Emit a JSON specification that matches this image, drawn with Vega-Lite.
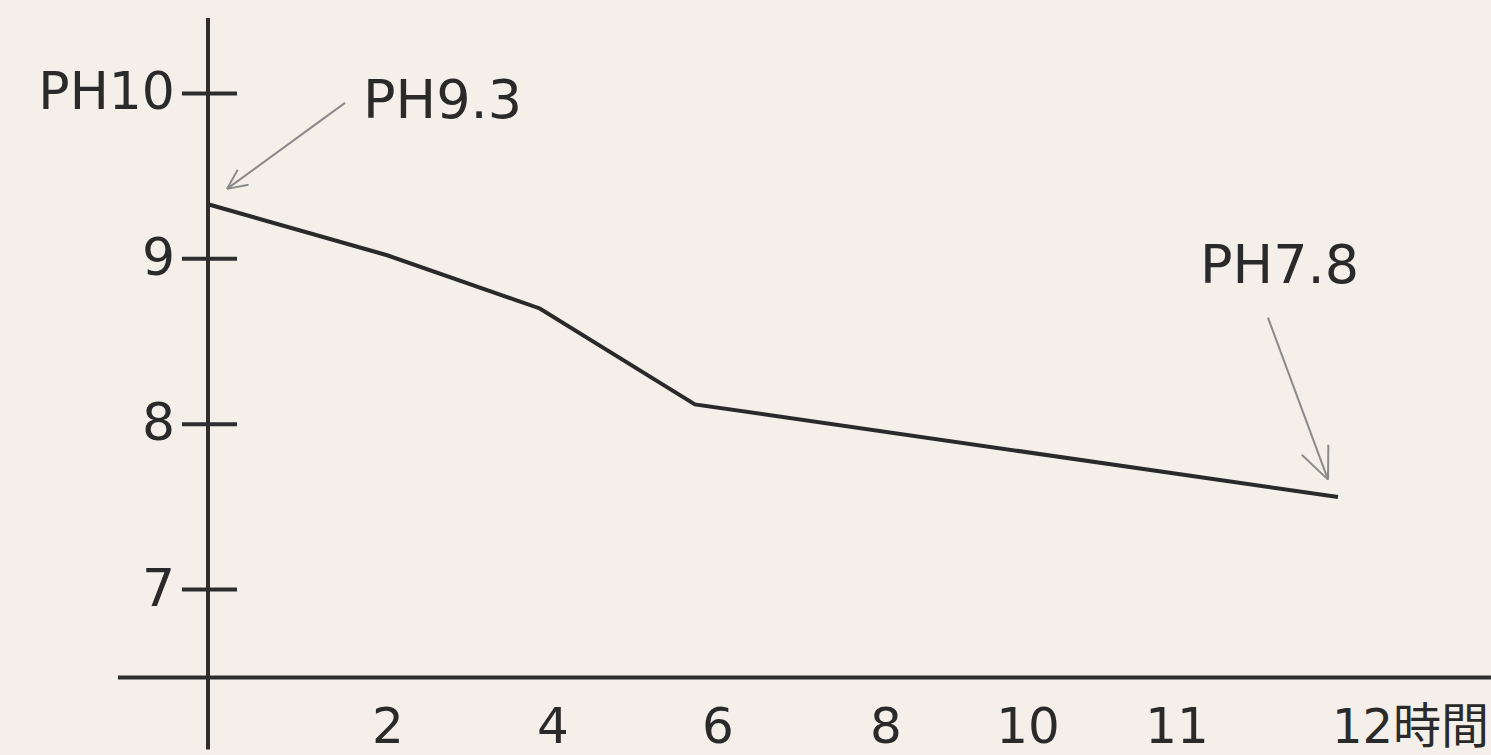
{
  "$schema": "https://vega.github.io/schema/vega-lite/v6.json",
  "width": 1491,
  "height": 755,
  "padding": 0,
  "autosize": {"type": "none"},
  "background": "#f4efe9",
  "config": {"view": {"stroke": null}, "font": "DejaVu Sans, Noto Sans CJK JP"},
  "datasets": {
    "ph": [
      {"hour": 0, "pH": 9.33},
      {"hour": 2, "pH": 9.02},
      {"hour": 3.84, "pH": 8.70},
      {"hour": 5.72, "pH": 8.12},
      {"hour": 12, "pH": 7.56}
    ],
    "yticks": [
      {"pH": 10, "label": "PH10"},
      {"pH": 9, "label": "9"},
      {"pH": 8, "label": "8"},
      {"pH": 7, "label": "7"}
    ],
    "xticks": [
      {"hour": 2, "label": "2"},
      {"hour": 4, "label": "4"},
      {"hour": 6, "label": "6"},
      {"hour": 8, "label": "8"},
      {"hour": 10, "label": "10"},
      {"hour": 11, "label": "11"},
      {"hour": 12, "label": "12時間"}
    ],
    "notes": [
      {"hour": 0, "pH": 9.3, "label": "PH9.3"},
      {"hour": 12, "pH": 7.8, "label": "PH7.8"}
    ]
  },
  "layer": [
    {
      "data": {"name": "ph"},
      "mark": {"type": "line", "stroke": "#2a2a2a", "strokeWidth": 4, "strokeJoin": "miter"},
      "encoding": {
        "x": {"field": "hour", "type": "quantitative", "axis": null,
              "scale": {"domain": [0, 2, 4, 6, 8, 10, 11, 12], "range": [208, 388, 553, 718, 886, 1028, 1177, 1338], "nice": false, "zero": false}},
        "y": {"field": "pH", "type": "quantitative", "axis": null,
              "scale": {"domain": [6.0, 10.565], "nice": false, "zero": false}}
      }
    },
    {
      "data": {"values": [{}]},
      "mark": {"type": "rule", "stroke": "#2e2e2e", "strokeWidth": 4},
      "encoding": {
        "x": {"datum": 0, "type": "quantitative"},
        "y": {"datum": 6.033, "type": "quantitative"},
        "y2": {"datum": 10.456}
      }
    },
    {
      "data": {"values": [{}]},
      "mark": {"type": "rule", "stroke": "#2e2e2e", "strokeWidth": 4},
      "encoding": {
        "x": {"datum": -1.0, "type": "quantitative"},
        "x2": {"datum": 12.95},
        "y": {"datum": 6.468, "type": "quantitative"}
      }
    },
    {
      "data": {"name": "yticks"},
      "mark": {"type": "rule", "stroke": "#2e2e2e", "strokeWidth": 4},
      "encoding": {
        "x": {"datum": -0.289, "type": "quantitative"},
        "x2": {"datum": 0.322},
        "y": {"field": "pH", "type": "quantitative"}
      }
    },
    {
      "data": {"name": "yticks"},
      "mark": {"type": "text", "align": "right", "baseline": "middle", "fontSize": 52, "fill": "#2a2a2a"},
      "encoding": {
        "x": {"datum": -0.367, "type": "quantitative"},
        "y": {"field": "pH", "type": "quantitative"},
        "text": {"field": "label"}
      }
    },
    {
      "data": {"name": "xticks"},
      "transform": [{"filter": "datum.hour < 12"}],
      "mark": {"type": "text", "align": "center", "baseline": "alphabetic", "fontSize": 50, "fill": "#2a2a2a"},
      "encoding": {
        "x": {"field": "hour", "type": "quantitative"},
        "y": {"datum": 6.075, "type": "quantitative"},
        "text": {"field": "label"}
      }
    },
    {
      "data": {"name": "xticks"},
      "transform": [{"filter": "datum.hour >= 12"}],
      "mark": {"type": "text", "align": "left", "baseline": "alphabetic", "fontSize": 48, "dx": -6, "fill": "#2a2a2a"},
      "encoding": {
        "x": {"field": "hour", "type": "quantitative"},
        "y": {"datum": 6.075, "type": "quantitative"},
        "text": {"field": "label"}
      }
    },
    {
      "data": {"name": "notes"},
      "transform": [{"filter": "datum.hour == 0"}],
      "mark": {"type": "text", "align": "left", "baseline": "alphabetic", "fontSize": 54, "fill": "#2a2a2a"},
      "encoding": {
        "x": {"datum": 1.722, "type": "quantitative"},
        "y": {"datum": 9.852, "type": "quantitative"},
        "text": {"field": "label"}
      }
    },
    {
      "data": {"name": "notes"},
      "transform": [{"filter": "datum.hour == 12"}],
      "mark": {"type": "text", "align": "left", "baseline": "alphabetic", "fontSize": 54, "fill": "#2a2a2a"},
      "encoding": {
        "x": {"datum": 11.143, "type": "quantitative"},
        "y": {"datum": 8.855, "type": "quantitative"},
        "text": {"field": "label"}
      }
    },
    {
      "data": {"values": [{}]},
      "mark": {"type": "rule", "stroke": "#8a8a8a", "strokeWidth": 2},
      "encoding": {
        "x": {"datum": 1.522, "type": "quantitative"},
        "y": {"datum": 9.943, "type": "quantitative"},
        "x2": {"datum": 0.211},
        "y2": {"datum": 9.423}
      }
    },
    {
      "data": {"values": [{}]},
      "mark": {"type": "rule", "stroke": "#8a8a8a", "strokeWidth": 2},
      "encoding": {
        "x": {"datum": 0.451, "type": "quantitative"},
        "y": {"datum": 9.448, "type": "quantitative"},
        "x2": {"datum": 0.211},
        "y2": {"datum": 9.423}
      }
    },
    {
      "data": {"values": [{}]},
      "mark": {"type": "rule", "stroke": "#8a8a8a", "strokeWidth": 2},
      "encoding": {
        "x": {"datum": 0.330, "type": "quantitative"},
        "y": {"datum": 9.539, "type": "quantitative"},
        "x2": {"datum": 0.211},
        "y2": {"datum": 9.423}
      }
    },
    {
      "data": {"values": [{}]},
      "mark": {"type": "rule", "stroke": "#8a8a8a", "strokeWidth": 2},
      "encoding": {
        "x": {"datum": 11.565, "type": "quantitative"},
        "y": {"datum": 8.644, "type": "quantitative"},
        "x2": {"datum": 11.938},
        "y2": {"datum": 7.665}
      }
    },
    {
      "data": {"values": [{}]},
      "mark": {"type": "rule", "stroke": "#8a8a8a", "strokeWidth": 2},
      "encoding": {
        "x": {"datum": 11.940, "type": "quantitative"},
        "y": {"datum": 7.876, "type": "quantitative"},
        "x2": {"datum": 11.938},
        "y2": {"datum": 7.665}
      }
    },
    {
      "data": {"values": [{}]},
      "mark": {"type": "rule", "stroke": "#8a8a8a", "strokeWidth": 2},
      "encoding": {
        "x": {"datum": 11.775, "type": "quantitative"},
        "y": {"datum": 7.816, "type": "quantitative"},
        "x2": {"datum": 11.938},
        "y2": {"datum": 7.665}
      }
    }
  ]
}
